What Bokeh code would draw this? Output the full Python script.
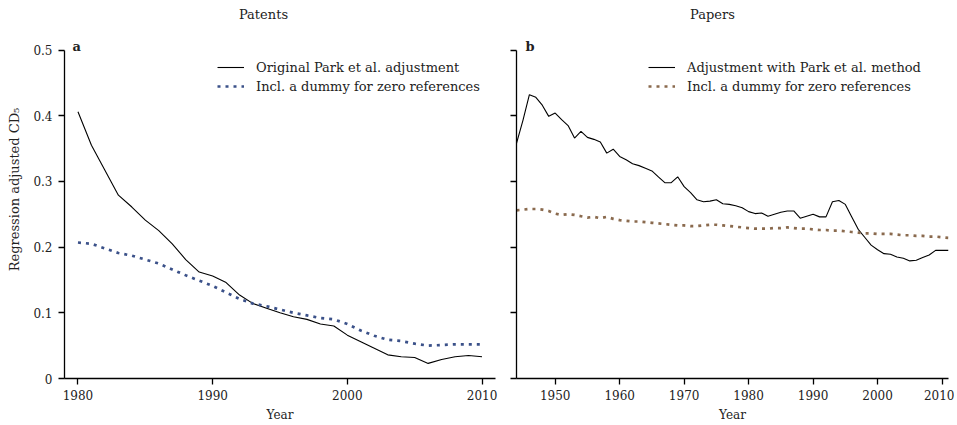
from bokeh.plotting import figure
from bokeh.models import Label, Legend, LegendItem, FixedTicker, Range1d
from bokeh.layouts import row
from bokeh.embed import file_html
from bokeh.resources import INLINE

# ---------------- data ----------------
patent_years = list(range(1980, 2011))
patent_park = [0.406, 0.355, 0.317, 0.279, 0.261, 0.241, 0.225, 0.205, 0.181, 0.162,
               0.156, 0.146, 0.127, 0.114, 0.107, 0.100, 0.094, 0.090, 0.083, 0.080,
               0.066, 0.056, 0.046, 0.036, 0.033, 0.032, 0.023, 0.029, 0.033, 0.035,
               0.033]
patent_dummy = [0.207, 0.205, 0.198, 0.191, 0.187, 0.181, 0.175, 0.166, 0.157, 0.149,
                0.141, 0.131, 0.121, 0.114, 0.110, 0.105, 0.100, 0.096, 0.092, 0.090,
                0.083, 0.073, 0.065, 0.059, 0.057, 0.053, 0.050, 0.051, 0.052, 0.052,
                0.052]

paper_years = list(range(1944, 2012))
paper_park = [0.358, 0.393, 0.432, 0.428, 0.416, 0.399, 0.404, 0.394, 0.385, 0.366,
              0.376, 0.367, 0.364, 0.360, 0.343, 0.349, 0.338, 0.333, 0.327, 0.324,
              0.320, 0.316, 0.307, 0.298, 0.298, 0.307, 0.292, 0.283, 0.272, 0.269,
              0.270, 0.272, 0.266, 0.265, 0.263, 0.260, 0.254, 0.251, 0.252, 0.247,
              0.250, 0.253, 0.255, 0.255, 0.244, 0.247, 0.250, 0.246, 0.246, 0.269,
              0.271, 0.265, 0.246, 0.227, 0.215, 0.203, 0.196, 0.190, 0.189, 0.185,
              0.183, 0.179, 0.180, 0.184, 0.188, 0.195, 0.195, 0.195]
paper_dummy = [0.256, 0.257, 0.258, 0.258, 0.257, 0.255, 0.251, 0.249, 0.250, 0.249,
               0.247, 0.245, 0.246, 0.244, 0.246, 0.243, 0.241, 0.240, 0.239, 0.239,
               0.238, 0.237, 0.236, 0.235, 0.234, 0.233, 0.233, 0.232, 0.232, 0.233,
               0.234, 0.234, 0.233, 0.232, 0.231, 0.230, 0.229, 0.228, 0.228, 0.228,
               0.229, 0.229, 0.230, 0.229, 0.228, 0.228, 0.227, 0.226, 0.226, 0.225,
               0.225, 0.224, 0.223, 0.222, 0.221, 0.221, 0.220, 0.220, 0.220, 0.219,
               0.218, 0.218, 0.217, 0.217, 0.216, 0.216, 0.215, 0.214]

y_ticks = [0, 0.1, 0.2, 0.3, 0.4, 0.5]
patent_xticks = [1980, 1990, 2000, 2010]
paper_xticks = [1950, 1960, 1970, 1980, 1990, 2000, 2010]

labels_patents = ["Original Park et al. adjustment", "Incl. a dummy for zero references"]
labels_papers = ["Adjustment with Park et al. method", "Incl. a dummy for zero references"]

FONT = "DejaVu Serif"
BLUE = "#3b5189"
BROWN = "#8a6a4e"
TXT = "#222222"

HEIGHT = 424
BORDER_BOTTOM = 46
FRAME_H = HEIGHT - BORDER_BOTTOM          # frame reaches the top of the canvas
TOP_PAD = 49.5                            # pixels above the 0.5 tick (title area)
Y_MAX = 0.5 / (1 - TOP_PAD / FRAME_H)


def style(p, xticks, show_ylabels):
    p.grid.visible = False
    p.outline_line_color = None
    for ax in (p.xaxis[0], p.yaxis[0]):
        ax.axis_line_color = "black"
        ax.axis_line_width = 1.3
        ax.major_tick_line_color = "black"
        ax.major_tick_line_width = 1.3
        ax.major_tick_out = 6
        ax.major_tick_in = 0
        ax.minor_tick_line_color = None
        ax.major_label_text_font = FONT
        ax.major_label_text_font_size = "12px"
        ax.major_label_text_color = TXT
        ax.axis_label_text_font = FONT
        ax.axis_label_text_font_size = "12px"
        ax.axis_label_text_font_style = "normal"
        ax.axis_label_text_color = TXT
    p.xaxis.ticker = FixedTicker(ticks=xticks)
    p.xaxis.major_label_standoff = 5
    p.xaxis.axis_label = "Year"
    p.xaxis.axis_label_standoff = 5
    p.yaxis.ticker = FixedTicker(ticks=y_ticks)
    p.yaxis.bounds = (0, 0.5)
    if show_ylabels:
        p.yaxis.major_label_overrides = {0: "0"}
        p.yaxis.major_label_standoff = 6
        p.yaxis.axis_label = "Regression adjusted CD\u2085"
        p.yaxis.axis_label_text_font_size = "13px"
        p.yaxis.axis_label_standoff = 8
    else:
        p.yaxis.major_label_overrides = {t: "" for t in y_ticks}


def legend(p, items, loc):
    lg = Legend(items=items, location=loc)
    lg.label_text_font = FONT
    lg.label_text_font_size = "13px"
    lg.label_text_color = TXT
    lg.glyph_width = 27
    lg.glyph_height = 16
    lg.label_height = 16
    lg.spacing = 3
    lg.padding = 0
    lg.margin = 0
    lg.label_standoff = 12
    lg.border_line_color = None
    lg.background_fill_alpha = 0
    p.add_layout(lg)


def text_label(p, x, y_from_top, text, bold=False, align="left", size="13px"):
    p.add_layout(Label(x=x, y=FRAME_H - y_from_top, x_units="screen", y_units="screen",
                       text=text, text_font=FONT, text_font_size=size,
                       text_font_style="bold" if bold else "normal",
                       text_align=align, text_baseline="middle", text_color=TXT))


# ---------------- Patents ----------------
p1 = figure(width=503, height=HEIGHT, output_backend="svg", toolbar_location=None,
            x_range=Range1d(1979, 2011), y_range=Range1d(0, Y_MAX),
            min_border_left=64, min_border_right=8, min_border_top=0,
            min_border_bottom=BORDER_BOTTOM)
style(p1, patent_xticks, True)
r1 = p1.line(patent_years, patent_park, line_color="black", line_width=1.1)
r2 = p1.line(patent_years, patent_dummy, line_color=BLUE, line_width=2.7,
             line_dash="3 5", line_cap="butt")
legend(p1, [LegendItem(label=labels_patents[0], renderers=[r1]),
            LegendItem(label=labels_patents[1], renderers=[r2])],
       (153, FRAME_H - 94))
text_label(p1, 8, 46, "a", bold=True)
text_label(p1, 199, 14, "Patents", align="center")

# ---------------- Papers ----------------
p2 = figure(width=451, height=HEIGHT, output_backend="svg", toolbar_location=None,
            x_range=Range1d(1944, 2011), y_range=Range1d(0, Y_MAX),
            min_border_left=13, min_border_right=6, min_border_top=0,
            min_border_bottom=BORDER_BOTTOM)
style(p2, paper_xticks, False)
r3 = p2.line(paper_years, paper_park, line_color="black", line_width=1.1)
r4 = p2.line(paper_years, paper_dummy, line_color=BROWN, line_width=2.7,
             line_dash="3 5", line_cap="butt")
legend(p2, [LegendItem(label=labels_papers[0], renderers=[r3]),
            LegendItem(label=labels_papers[1], renderers=[r4])],
       (132, FRAME_H - 94))
text_label(p2, 9, 46, "b", bold=True)
text_label(p2, 196, 14, "Papers", align="center")

layout = row(p1, p2)
open("out.html", "w").write(file_html(layout, INLINE))
